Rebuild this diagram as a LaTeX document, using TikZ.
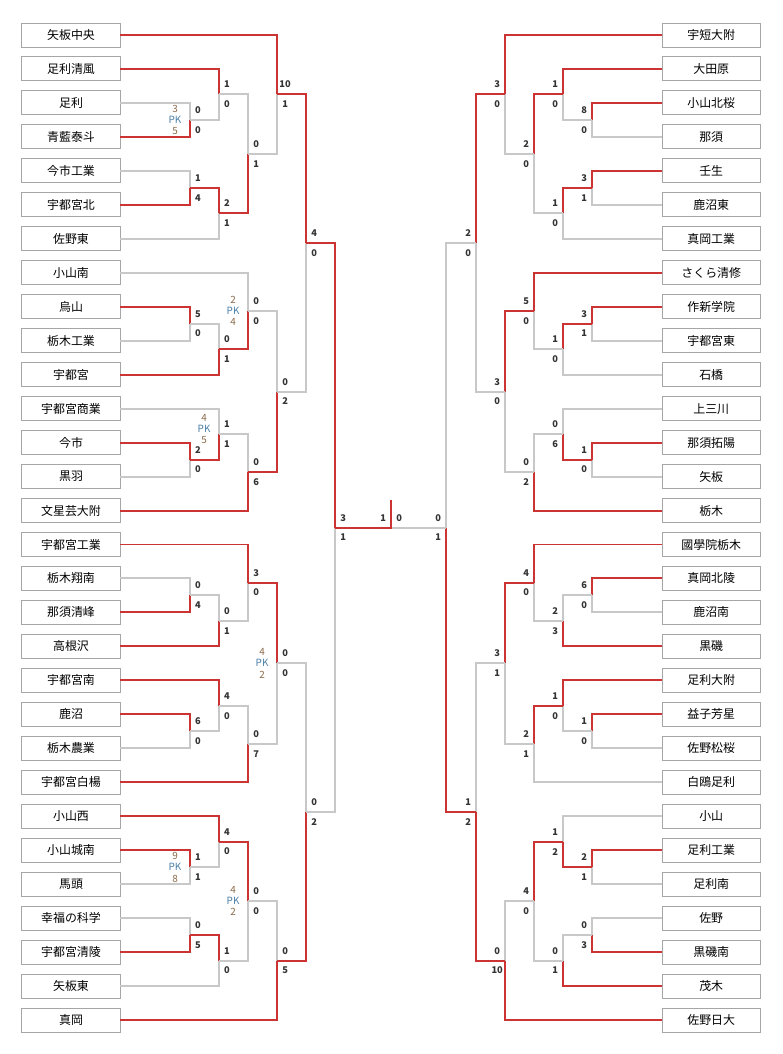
\documentclass[tikz,border=0pt]{standalone}
\usepackage{fontspec}
\setmainfont{Noto Sans CJK JP}
\usepackage{xcolor}
\usetikzlibrary{positioning}
\definecolor{winred}{HTML}{CC3333}
\definecolor{lossgray}{HTML}{C8C8C8}
\definecolor{pknum}{HTML}{8B6A4A}
\definecolor{pkblue}{HTML}{4A7FA8}
\tikzset{
  team/.style={draw=black!35, line width=0.7pt, minimum width=2.6cm, minimum height=0.636cm, inner sep=0pt, font=\small},
  win/.style={draw=winred, line width=1.5pt},
  lose/.style={draw=lossgray, line width=1.5pt},
  score/.style={font=\scriptsize\bfseries, text=black!80, inner sep=0pt},
  pk/.style={font=\fontsize{7.5}{8.5}\selectfont, inner sep=0pt, align=center}
}
% one leg: horizontal to the next vertical, then up or down to its middle
\newcommand{\leg}[5]{\draw[#1] (#2,#3) -| (#4,#5);}
% scores of one match, left and right side
\newcommand{\scL}[4]{\node[score] at (#1+8,#2-0.29) {#3}; \node[score] at (#1+8,#2+0.29) {#4};}
\newcommand{\scR}[4]{\node[score] at (#1-8,#2-0.29) {#3}; \node[score] at (#1-8,#2+0.29) {#4};}
\newcommand{\pkmark}[4]{\node[pk] at (#1,#2) {\textcolor{pknum}{#3}\\\textcolor{pkblue}{PK}\\\textcolor{pknum}{#4}};}

\begin{document}
\begin{tikzpicture}[x=0.0265cm, y=-0.9cm]
    \useasboundingbox (0,-1.03) rectangle (782,30.0);

    % Teams, left side
    \foreach \name [count=\i from 0] in {矢板中央,足利清風,足利,青藍泰斗,今市工業,宇都宮北,佐野東,小山南,烏山,栃木工業,宇都宮,宇都宮商業,今市,黒羽,文星芸大附,宇都宮工業,栃木翔南,那須清峰,高根沢,宇都宮南,鹿沼,栃木農業,宇都宮白楊,小山西,小山城南,馬頭,幸福の科学,宇都宮清陵,矢板東,真岡}
        \node[team] (L\i) at (71,\i) {\name};
    % Teams, right side
    \foreach \name [count=\i from 0] in {宇短大附,大田原,小山北桜,那須,壬生,鹿沼東,真岡工業,さくら清修,作新学院,宇都宮東,石橋,上三川,那須拓陽,矢板,栃木,國學院栃木,真岡北陵,鹿沼南,黒磯,足利大附,益子芳星,佐野松桜,白鴎足利,小山,足利工業,足利南,佐野,黒磯南,茂木,佐野日大}
        \node[team] (R\i) at (711,\i) {\name};

    % Left top block
    \leg{lose}{120}{2}{190}{2.5} \leg{win}{120}{3}{190}{2.5} \scL{190}{2.5}{0}{0} \pkmark{175}{2.5}{3}{5}
    \leg{win}{120}{1}{219}{1.75} \leg{lose}{190}{2.5}{219}{1.75} \scL{219}{1.75}{1}{0}
    \leg{lose}{120}{4}{190}{4.5} \leg{win}{120}{5}{190}{4.5} \scL{190}{4.5}{1}{4}
    \leg{win}{190}{4.5}{219}{5.25} \leg{lose}{120}{6}{219}{5.25} \scL{219}{5.25}{2}{1}
    \leg{lose}{219}{1.75}{248}{3.5} \leg{win}{219}{5.25}{248}{3.5} \scL{248}{3.5}{0}{1}
    \leg{win}{120}{0}{277}{1.75} \leg{lose}{248}{3.5}{277}{1.75} \scL{277}{1.75}{10}{1}
    \leg{win}{120}{8}{190}{8.5} \leg{lose}{120}{9}{190}{8.5} \scL{190}{8.5}{5}{0}
    \leg{lose}{190}{8.5}{219}{9.25} \leg{win}{120}{10}{219}{9.25} \scL{219}{9.25}{0}{1}
    \leg{lose}{120}{7}{248}{8.125} \leg{win}{219}{9.25}{248}{8.125} \scL{248}{8.125}{0}{0} \pkmark{233}{8.125}{2}{4}
    \leg{win}{120}{12}{190}{12.5} \leg{lose}{120}{13}{190}{12.5} \scL{190}{12.5}{2}{0}
    \leg{lose}{120}{11}{219}{11.75} \leg{win}{190}{12.5}{219}{11.75} \scL{219}{11.75}{1}{1} \pkmark{204}{11.6}{4}{5}
    \leg{lose}{219}{11.75}{248}{12.875} \leg{win}{120}{14}{248}{12.875} \scL{248}{12.875}{0}{6}
    \leg{lose}{248}{8.125}{277}{10.5} \leg{win}{248}{12.875}{277}{10.5} \scL{277}{10.5}{0}{2}
    \leg{win}{277}{1.75}{306}{6.125} \leg{lose}{277}{10.5}{306}{6.125} \scL{306}{6.125}{4}{0}

    % Left bottom block
    \leg{lose}{120}{16}{190}{16.5} \leg{win}{120}{17}{190}{16.5} \scL{190}{16.5}{0}{4}
    \leg{lose}{190}{16.5}{219}{17.25} \leg{win}{120}{18}{219}{17.25} \scL{219}{17.25}{0}{1}
    \leg{win}{120}{15}{248}{16.125} \leg{lose}{219}{17.25}{248}{16.125} \scL{248}{16.125}{3}{0}
    \leg{win}{120}{20}{190}{20.5} \leg{lose}{120}{21}{190}{20.5} \scL{190}{20.5}{6}{0}
    \leg{win}{120}{19}{219}{19.75} \leg{lose}{190}{20.5}{219}{19.75} \scL{219}{19.75}{4}{0}
    \leg{lose}{219}{19.75}{248}{20.875} \leg{win}{120}{22}{248}{20.875} \scL{248}{20.875}{0}{7}
    \leg{win}{248}{16.125}{277}{18.5} \leg{lose}{248}{20.875}{277}{18.5} \scL{277}{18.5}{0}{0} \pkmark{262}{18.5}{4}{2}
    \leg{win}{120}{24}{190}{24.5} \leg{lose}{120}{25}{190}{24.5} \scL{190}{24.5}{1}{1} \pkmark{175}{24.5}{9}{8}
    \leg{win}{120}{23}{219}{23.75} \leg{lose}{190}{24.5}{219}{23.75} \scL{219}{23.75}{4}{0}
    \leg{lose}{120}{26}{190}{26.5} \leg{win}{120}{27}{190}{26.5} \scL{190}{26.5}{0}{5}
    \leg{win}{190}{26.5}{219}{27.25} \leg{lose}{120}{28}{219}{27.25} \scL{219}{27.25}{1}{0}
    \leg{win}{219}{23.75}{248}{25.5} \leg{lose}{219}{27.25}{248}{25.5} \scL{248}{25.5}{0}{0} \pkmark{233}{25.5}{4}{2}
    \leg{lose}{248}{25.5}{277}{27.25} \leg{win}{120}{29}{277}{27.25} \scL{277}{27.25}{0}{5}
    \leg{lose}{277}{18.5}{306}{22.875} \leg{win}{277}{27.25}{306}{22.875} \scL{306}{22.875}{0}{2}

    % Left semifinal
    \leg{win}{306}{6.125}{335}{14.5} \leg{lose}{306}{22.875}{335}{14.5} \scL{335}{14.5}{3}{1}

    % Right top block
    \leg{win}{662}{2}{592}{2.5} \leg{lose}{662}{3}{592}{2.5} \scR{592}{2.5}{8}{0}
    \leg{win}{662}{1}{563}{1.75} \leg{lose}{592}{2.5}{563}{1.75} \scR{563}{1.75}{1}{0}
    \leg{win}{662}{4}{592}{4.5} \leg{lose}{662}{5}{592}{4.5} \scR{592}{4.5}{3}{1}
    \leg{win}{592}{4.5}{563}{5.25} \leg{lose}{662}{6}{563}{5.25} \scR{563}{5.25}{1}{0}
    \leg{win}{563}{1.75}{534}{3.5} \leg{lose}{563}{5.25}{534}{3.5} \scR{534}{3.5}{2}{0}
    \leg{win}{662}{0}{505}{1.75} \leg{lose}{534}{3.5}{505}{1.75} \scR{505}{1.75}{3}{0}
    \leg{win}{662}{8}{592}{8.5} \leg{lose}{662}{9}{592}{8.5} \scR{592}{8.5}{3}{1}
    \leg{win}{592}{8.5}{563}{9.25} \leg{lose}{662}{10}{563}{9.25} \scR{563}{9.25}{1}{0}
    \leg{win}{662}{7}{534}{8.125} \leg{lose}{563}{9.25}{534}{8.125} \scR{534}{8.125}{5}{0}
    \leg{win}{662}{12}{592}{12.5} \leg{lose}{662}{13}{592}{12.5} \scR{592}{12.5}{1}{0}
    \leg{lose}{662}{11}{563}{11.75} \leg{win}{592}{12.5}{563}{11.75} \scR{563}{11.75}{0}{6}
    \leg{lose}{563}{11.75}{534}{12.875} \leg{win}{662}{14}{534}{12.875} \scR{534}{12.875}{0}{2}
    \leg{win}{534}{8.125}{505}{10.5} \leg{lose}{534}{12.875}{505}{10.5} \scR{505}{10.5}{3}{0}
    \leg{win}{505}{1.75}{476}{6.125} \leg{lose}{505}{10.5}{476}{6.125} \scR{476}{6.125}{2}{0}

    % Right bottom block
    \leg{win}{662}{16}{592}{16.5} \leg{lose}{662}{17}{592}{16.5} \scR{592}{16.5}{6}{0}
    \leg{lose}{592}{16.5}{563}{17.25} \leg{win}{662}{18}{563}{17.25} \scR{563}{17.25}{2}{3}
    \leg{win}{662}{15}{534}{16.125} \leg{lose}{563}{17.25}{534}{16.125} \scR{534}{16.125}{4}{0}
    \leg{win}{662}{20}{592}{20.5} \leg{lose}{662}{21}{592}{20.5} \scR{592}{20.5}{1}{0}
    \leg{win}{662}{19}{563}{19.75} \leg{lose}{592}{20.5}{563}{19.75} \scR{563}{19.75}{1}{0}
    \leg{win}{563}{19.75}{534}{20.875} \leg{lose}{662}{22}{534}{20.875} \scR{534}{20.875}{2}{1}
    \leg{win}{534}{16.125}{505}{18.5} \leg{lose}{534}{20.875}{505}{18.5} \scR{505}{18.5}{3}{1}
    \leg{win}{662}{24}{592}{24.5} \leg{lose}{662}{25}{592}{24.5} \scR{592}{24.5}{2}{1}
    \leg{lose}{662}{23}{563}{23.75} \leg{win}{592}{24.5}{563}{23.75} \scR{563}{23.75}{1}{2}
    \leg{lose}{662}{26}{592}{26.5} \leg{win}{662}{27}{592}{26.5} \scR{592}{26.5}{0}{3}
    \leg{lose}{592}{26.5}{563}{27.25} \leg{win}{662}{28}{563}{27.25} \scR{563}{27.25}{0}{1}
    \leg{win}{563}{23.75}{534}{25.5} \leg{lose}{563}{27.25}{534}{25.5} \scR{534}{25.5}{4}{0}
    \leg{lose}{534}{25.5}{505}{27.25} \leg{win}{662}{29}{505}{27.25} \scR{505}{27.25}{0}{10}
    \leg{lose}{505}{18.5}{476}{22.875} \leg{win}{505}{27.25}{476}{22.875} \scR{476}{22.875}{1}{2}

    % Right semifinal
    \leg{lose}{476}{6.125}{446}{14.5} \leg{win}{476}{22.875}{446}{14.5} \scR{446}{14.5}{0}{1}

    % Final
    \coordinate (champ) at (391,14.5);
    \coordinate (top) at (391,13.69);
    \draw[lose] (champ) -- (446,14.5);
    \draw[win] (335,14.5) -- (champ) -- (top);
    \node[score] at (383,14.21) {1};
    \node[score] at (399,14.21) {0};
\end{tikzpicture}
\end{document}
